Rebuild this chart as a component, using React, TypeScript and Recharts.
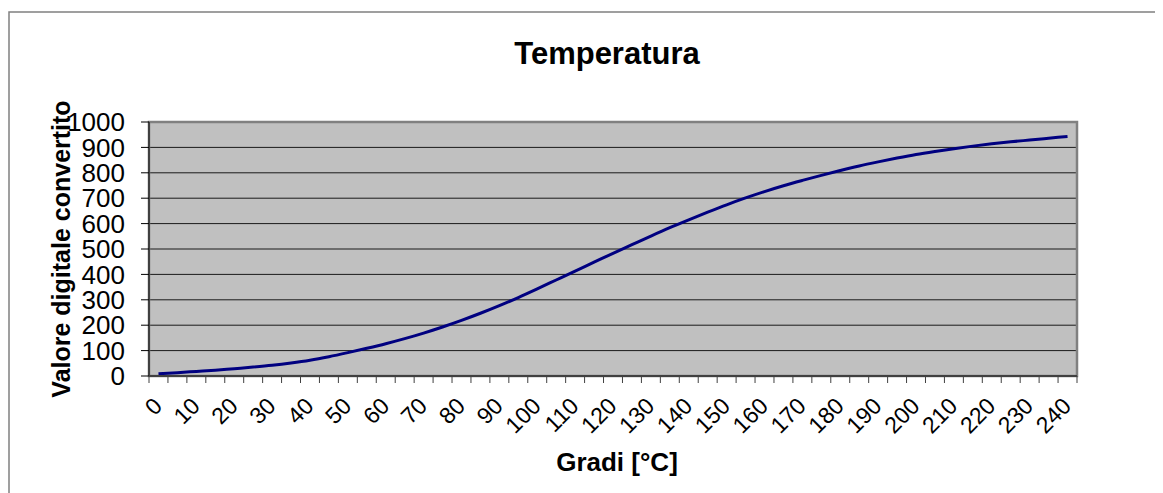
import { LineChart, Line, XAxis, YAxis, CartesianGrid, ReferenceArea } from "recharts";

// temperature steps [°C]
const TEMPS = [
  0, 5, 10, 15, 20, 25, 30, 35, 40, 45, 50, 55, 60, 65, 70, 75, 80, 85, 90, 95,
  100, 105, 110, 115, 120, 125, 130, 135, 140, 145, 150, 155, 160, 165, 170, 175,
  180, 185, 190, 195, 200, 205, 210, 215, 220, 225, 230, 235, 240,
];

// converted ADC value for each step
const VALUES = [
  9, 13, 18, 23, 29, 35, 42, 51, 62, 76, 92, 109, 127, 147, 169, 193, 219, 247, 277, 309,
  343, 378, 413, 448, 483, 517, 551, 584, 615, 645, 674, 701, 726, 749, 770, 790,
  809, 827, 843, 858, 872, 884, 895, 905, 914, 922, 929, 936, 943,
];

const Y_TICKS = [0, 100, 200, 300, 400, 500, 600, 700, 800, 900, 1000];

const data = TEMPS.map((t, i) => ({ t, v: VALUES[i] }));

const W = 1155;
const H = 485;
const MARGIN = { top: 114, right: 86, bottom: 57, left: 61 };
const Y_AXIS_W = 80;
const X_AXIS_H = 60;
const BAND = (W - MARGIN.left - Y_AXIS_W - MARGIN.right) / TEMPS.length;
const FONT = "'Liberation Sans', Arial, sans-serif";

// tick marks sit on the category boundaries, labels every 10 degrees
function XTick(props: any) {
  const { x, y, payload, index } = props;
  const last = index === TEMPS.length - 1;
  const lx = x + 5;
  const ly = y + 31.5;
  return (
    <g>
      <line x1={x - BAND / 2} x2={x - BAND / 2} y1={y} y2={y + 7} stroke="#404040" />
      {last && <line x1={x + BAND / 2} x2={x + BAND / 2} y1={y} y2={y + 7} stroke="#404040" />}
      {payload.value % 10 === 0 && (
        <text
          x={lx}
          y={ly}
          transform={`rotate(-45, ${lx}, ${ly})`}
          textAnchor="end"
          fontSize={23}
          fontFamily={FONT}
          fill="#000"
        >
          {payload.value}
        </text>
      )}
    </g>
  );
}

export default function App() {
  return (
    <div style={{ position: "relative", width: W, height: H, overflow: "hidden", background: "#fff" }}>
      <svg width={W} height={H} style={{ position: "absolute", left: 0, top: 0 }}>
        <rect x={1} y={4} width={W + 100} height={H + 100} fill="none" stroke="#808080" strokeWidth={1.5} />
        <text x={599} y={56} textAnchor="middle" fontSize={31} fontWeight="bold" fontFamily={FONT} fill="#000">
          Temperatura
        </text>
        <text x={609} y={463} textAnchor="middle" fontSize={26} fontWeight="bold" fontFamily={FONT} fill="#000">
          Gradi [°C]
        </text>
        <text
          x={62}
          y={241}
          transform="rotate(-90, 62, 241)"
          textAnchor="middle"
          fontSize={25}
          fontWeight="bold"
          fontFamily={FONT}
          fill="#000"
        >
          Valore digitale convertito
        </text>
      </svg>
      <div style={{ position: "absolute", left: 0, top: 0 }}>
        <LineChart width={W} height={H} data={data} margin={MARGIN}>
          <CartesianGrid vertical={false} fill="#C0C0C0" stroke="#1a1a1a" fillOpacity={1} />
          <ReferenceArea y1={0} y2={1000} fill="none" stroke="#808080" strokeWidth={2.5} ifOverflow="visible" />
          <XAxis
            dataKey="t"
            scale="band"
            interval={0}
            height={X_AXIS_H}
            tickSize={0}
            tickMargin={0}
            tickLine={false}
            axisLine={{ stroke: "#404040", strokeWidth: 2 }}
            tick={(p: any) => <XTick {...p} />}
          />
          <YAxis
            type="number"
            domain={[0, 1000]}
            ticks={Y_TICKS}
            interval={0}
            width={Y_AXIS_W}
            tickSize={8}
            tickMargin={16}
            axisLine={{ stroke: "#404040", strokeWidth: 2 }}
            tickLine={{ stroke: "#000" }}
            tick={{ fontSize: 26, fill: "#000", fontFamily: FONT }}
          />
          <Line
            type="monotone"
            dataKey="v"
            stroke="#000080"
            strokeWidth={3}
            dot={false}
            isAnimationActive={false}
          />
        </LineChart>
      </div>
    </div>
  );
}
